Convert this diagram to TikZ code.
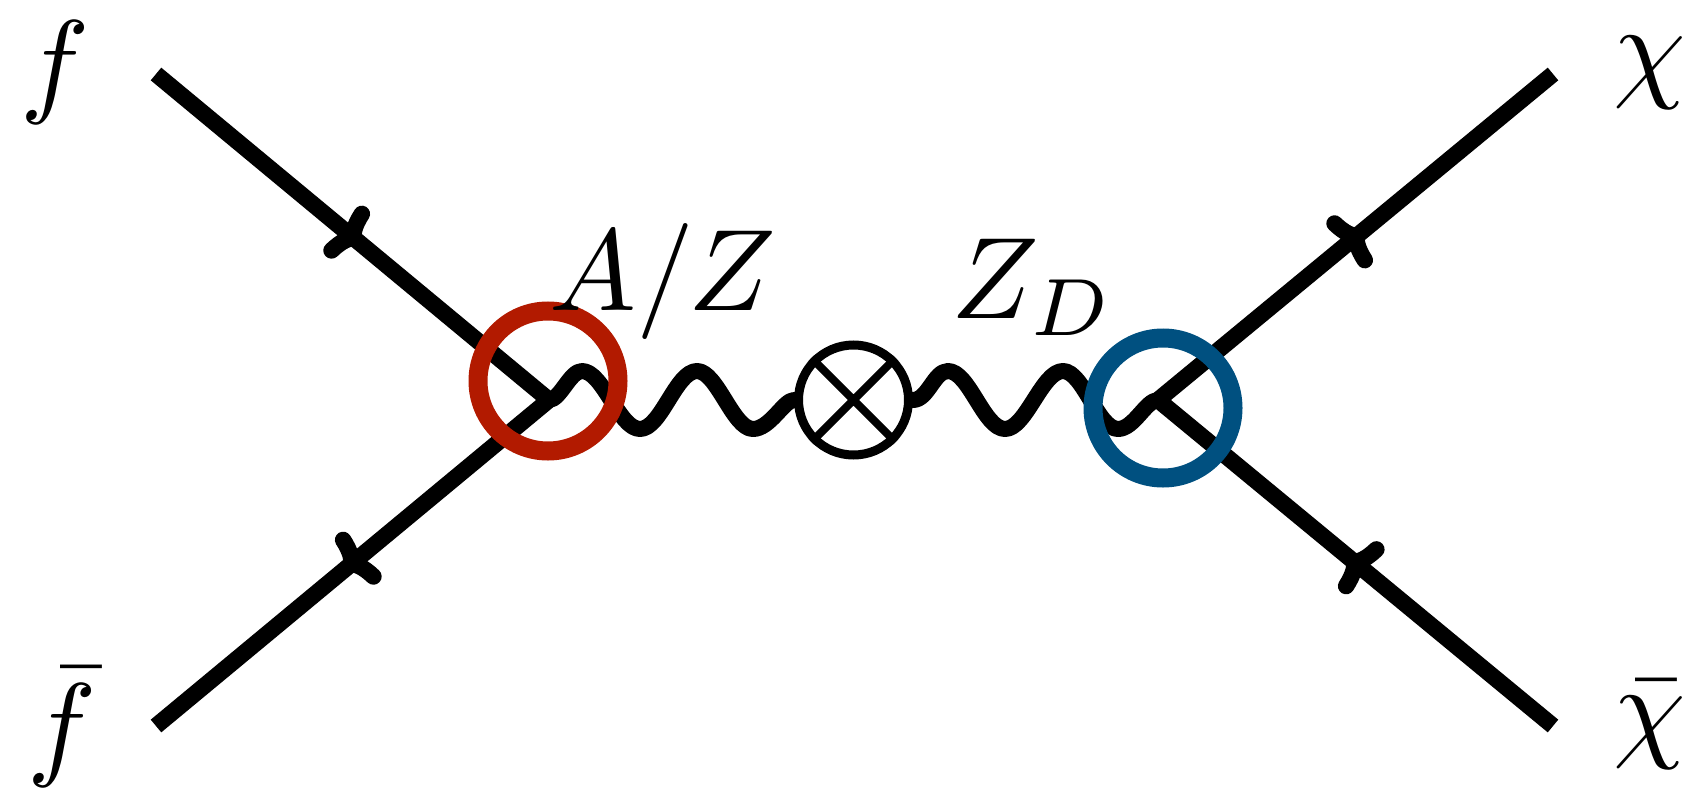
\documentclass[tikz,border=0pt]{standalone}
\usetikzlibrary{arrows.meta,decorations.markings}
\definecolor{ringred}{RGB}{178,26,0}
\definecolor{ringblue}{RGB}{0,80,128}
\tikzset{
  fermion/.style={line width=16.5pt, line cap=butt},
  farrow/.style={postaction={decorate, decoration={markings,
      mark=at position 0.52 with {\arrow{Computer Modern Rightarrow[length=26pt,width=64pt,line cap=round]}}}}},
  rarrow/.style={postaction={decorate, decoration={markings,
      mark=at position 0.48 with {\arrowreversed{Computer Modern Rightarrow[length=26pt,width=64pt,line cap=round]}}}}},
  photon/.style={line width=16pt, line cap=round, line join=round},
  ring/.style={circle, draw, line width=19pt, minimum size=140pt, inner sep=0pt},
  lbl/.style={scale=11.6, inner sep=0pt, anchor=base},
}
\begin{document}
\begin{tikzpicture}[x=1pt,y=-1pt]
\useasboundingbox (0,0) rectangle (1695,792);
\coordinate (fin) at (156,74);
\coordinate (fbin) at (156,726);
\coordinate (chout) at (1553,74);
\coordinate (chbout) at (1553,726);
\coordinate (v1) at (549,400);
\coordinate (v2) at (1158,400);
% fermion lines
\draw[fermion, farrow] (fin) -- (v1);
\draw[fermion, rarrow] (fbin) -- (v1);
\draw[fermion, farrow] (v2) -- (chout);
\draw[fermion, rarrow] (v2) -- (chbout);
% mixing vertex
\node[circle, draw, line width=9pt, minimum size=110pt, inner sep=0pt, fill=white] (xc) at (853.5,400) {};
\draw[line width=8pt] (xc.45) -- (xc.225) (xc.135) -- (xc.315);
% photon lines
\draw[photon] (v1) .. controls ++(11,0) and (570,371) .. (582,371)
  .. controls (603,371) and (619,429) .. (640,429)
  .. controls (661,429) and (676,371) .. (697,371)
  .. controls (717,371) and (733,429) .. (753,429)
  .. controls (770,429) and (784,400) .. (xc.west);
\draw[photon] (xc.east) .. controls ++(15,0) and (934,371) .. (948,371)
  .. controls (969,371) and (984,429) .. (1005,429)
  .. controls (1026,429) and (1042,371) .. (1063,371)
  .. controls (1083,371) and (1098,429) .. (1118,429)
  .. controls (1134,429) and (1146,400) .. (v2);
% rings
\node[ring, draw=ringred] (rr) at (548,381) {};
\node[ring, draw=ringblue] (rb) at (1163,408) {};
% labels
\node[lbl] (lf) at (55,102) {$f$};
\node[lbl] (lfb) at (62,764) {$\bar f$};
\node[lbl] (lch) at (1650,86) {$\chi$};
\node[lbl] (lchb) at (1650,746) {$\bar\chi$};
\node[lbl] (laz) at (663,310) {$A/Z$};
\node[lbl] (lzd) at (1033,318) {$Z_D$};
\end{tikzpicture}
\end{document}
